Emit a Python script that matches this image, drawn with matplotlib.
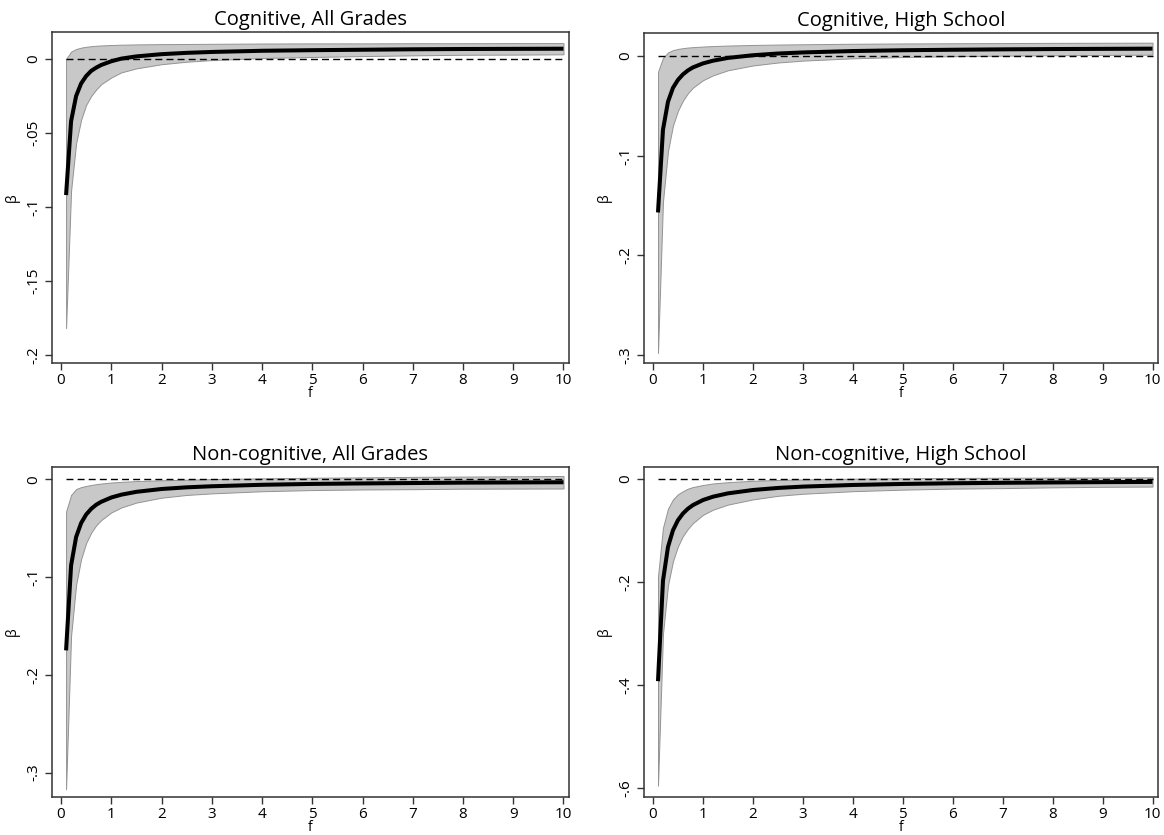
import matplotlib
matplotlib.use("Agg")
import matplotlib.pyplot as plt

# grid of f values where the estimates were evaluated
f_grid = [0.1, 0.2, 0.3, 0.4, 0.5, 0.6, 0.7, 0.8, 1.0, 1.2, 1.5,
          2.0, 2.5, 3.0, 4.0, 5.0, 6.0, 7.0, 8.0, 9.0, 10.0]

# Cognitive, All Grades
cog_all_beta = [-0.092, -0.042, -0.025, -0.0165, -0.0115, -0.008, -0.0058, -0.004,
                -0.0015, 0.0003, 0.0018, 0.0033, 0.0042, 0.0048, 0.0056, 0.0060,
                0.0063, 0.0066, 0.0068, 0.0069, 0.0070]
cog_all_hi = [0.0000, 0.0050, 0.0068, 0.0077, 0.0083, 0.0087, 0.0090, 0.0092,
              0.0095, 0.0097, 0.0099, 0.0101, 0.0102, 0.0103, 0.0105, 0.0106,
              0.0106, 0.0107, 0.0107, 0.0108, 0.0108]
cog_all_lo = [-0.182, -0.089, -0.057, -0.041, -0.031, -0.025, -0.0206, -0.017,
              -0.0125, -0.009, -0.0063, -0.0035, -0.0018, -0.0007, 0.0007, 0.0014,
              0.0020, 0.0025, 0.0029, 0.0030, 0.0032]

# Cognitive, High School
cog_hs_beta = [-0.157, -0.074, -0.046, -0.032, -0.024, -0.0185, -0.0145, -0.0115,
               -0.0075, -0.0048, -0.0020, 0.0007, 0.0024, 0.0035, 0.0049, 0.0057,
               0.0062, 0.0066, 0.0069, 0.0071, 0.0073]
cog_hs_hi = [-0.016, -0.002, 0.0035, 0.0058, 0.0070, 0.0078, 0.0084, 0.0088,
             0.0094, 0.0099, 0.0104, 0.0110, 0.0114, 0.0117, 0.0122, 0.0125,
             0.0127, 0.0129, 0.0131, 0.0132, 0.0133]
cog_hs_lo = [-0.298, -0.146, -0.0955, -0.0698, -0.055, -0.0448, -0.0374, -0.0318,
             -0.0244, -0.0195, -0.0144, -0.0096, -0.0066, -0.0047, -0.0024, -0.0011,
             -0.0003, 0.0003, 0.0007, 0.0010, 0.0013]

# Non-cognitive, All Grades
ncog_all_beta = [-0.175, -0.088, -0.059, -0.0447, -0.036, -0.0302, -0.026, -0.023,
                 -0.0186, -0.0157, -0.0128, -0.0099, -0.0082, -0.0071, -0.0056,
                 -0.0047, -0.0042, -0.0038, -0.0034, -0.0032, -0.0030]
ncog_all_hi = [-0.033, -0.016, -0.010, -0.0080, -0.0068, -0.0058, -0.0050, -0.0043,
               -0.0033, -0.0026, -0.0018, -0.0010, -0.0004, 0.0002, 0.0010, 0.0016,
               0.0020, 0.0025, 0.0028, 0.0031, 0.0034]
ncog_all_lo = [-0.317, -0.160, -0.108, -0.0814, -0.0652, -0.0546, -0.047, -0.0417,
               -0.0339, -0.0288, -0.0238, -0.0188, -0.016, -0.0144, -0.0122, -0.011,
               -0.0104, -0.0101, -0.0096, -0.0095, -0.0094]

# Non-cognitive, High School
ncog_hs_beta = [-0.393, -0.198, -0.1324, -0.0999, -0.0803, -0.0673, -0.058, -0.051,
                -0.0412, -0.0347, -0.0282, -0.0217, -0.0177, -0.0151, -0.0119,
                -0.0099, -0.0086, -0.0077, -0.0070, -0.0064, -0.0060]
ncog_hs_hi = [-0.190, -0.095, -0.058, -0.040, -0.030, -0.024, -0.019, -0.016,
              -0.012, -0.009, -0.0065, -0.0038, -0.0022, -0.0012, 0.0003, 0.0012,
              0.0017, 0.0021, 0.0024, 0.0027, 0.0029]
ncog_hs_lo = [-0.596, -0.301, -0.207, -0.160, -0.131, -0.111, -0.097, -0.086,
              -0.070, -0.060, -0.050, -0.040, -0.033, -0.029, -0.024, -0.021,
              -0.019, -0.018, -0.0165, -0.0155, -0.015]

titles = ["Cognitive, All Grades", "Cognitive, High School",
          "Non-cognitive, All Grades", "Non-cognitive, High School"]
yticks = [[0, -0.05, -0.1, -0.15, -0.2], [0, -0.1, -0.2, -0.3],
          [0, -0.1, -0.2, -0.3], [0, -0.2, -0.4, -0.6]]
ytick_labels = [["0", "-.05", "-.1", "-.15", "-.2"], ["0", "-.1", "-.2", "-.3"],
                ["0", "-.1", "-.2", "-.3"], ["0", "-.2", "-.4", "-.6"]]
ylims = [(-0.2056, 0.0183), (-0.308, 0.023), (-0.325, 0.0126), (-0.618, 0.023)]

series = [(cog_all_beta, cog_all_lo, cog_all_hi),
          (cog_hs_beta, cog_hs_lo, cog_hs_hi),
          (ncog_all_beta, ncog_all_lo, ncog_all_hi),
          (ncog_hs_beta, ncog_hs_lo, ncog_hs_hi)]

plt.rcParams.update({
    "font.family": ["Open Sans", "DejaVu Sans"],
    "axes.edgecolor": "#333333", "axes.linewidth": 1.1,
    "xtick.color": "#333333", "ytick.color": "#333333",
    "xtick.labelcolor": "black", "ytick.labelcolor": "black",
})

W, H = 1164, 835
fig = plt.figure(figsize=(W / 100, H / 100), dpi=100)

# panel boxes in pixels: left, right, top, bottom
boxes = [(52, 569, 32, 363), (644, 1158, 33, 363),
         (52, 569, 467, 797), (644, 1158, 467, 797)]

for i, (l, r, t, b) in enumerate(boxes):
    ax = fig.add_axes([l / W, 1 - b / H, (r - l) / W, (b - t) / H])
    beta, lo, hi = series[i]
    ax.fill_between(f_grid, lo, hi, facecolor="#c8c8c8", edgecolor="#939393",
                    linewidth=0.7, zorder=1)
    ax.plot([f_grid[0], f_grid[-1]], [0, 0], color="black", lw=1.0,
            dashes=(5, 3), zorder=2)
    ax.plot(f_grid, beta, color="black", lw=2.9, solid_capstyle="butt",
            solid_joinstyle="round", zorder=3)

    ax.set_xlim(-0.18, 10.11)
    ax.set_ylim(*ylims[i])
    ax.set_xticks(range(0, 11))
    ax.set_yticks(yticks[i])
    ax.set_yticklabels(ytick_labels[i], rotation=90, va="center")
    ax.tick_params(length=5, width=1.0, labelsize=11, pad=3)
    ax.tick_params(axis="x", pad=2)
    ax.set_xlabel("f", fontsize=10, labelpad=-1)
    ax.set_ylabel("β", fontsize=10, labelpad=4)
    ax.set_title(titles[i], fontsize=14.5, pad=5)

fig.savefig("out.png", dpi=100, facecolor="white")
